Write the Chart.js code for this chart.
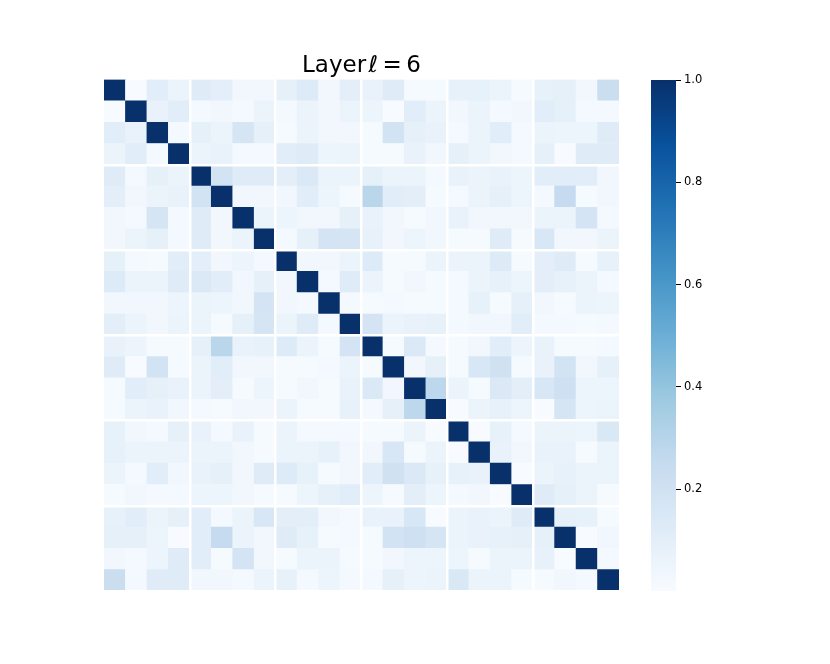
<!DOCTYPE html>
<html>
<head>
<meta charset="utf-8">
<title>Layer 6</title>
<script src="https://cdn.jsdelivr.net/npm/chart.js@4"></script>
<style>
  body { margin: 0; background: #fff; }
  #wrap { position: relative; width: 830px; height: 664px; }
  canvas { position: absolute; top: 0; }
  #heat { left: 0; }
  #bar { left: 640px; }
</style>
</head>
<body>
<div id="wrap">
  <canvas id="heat" width="830" height="664"></canvas>
  <canvas id="bar" width="190" height="664"></canvas>
</div>
<script>
// values, one list per row, top row first
const row0  = [1, .00, .11, .06, .12, .10, .03, .03, .09, .13, .03, .10, .07, .12, .01, .01, .08, .08, .06, .01, .08, .09, .03, .23];
const row1  = [.00, 1, .07, .11, .02, .03, .02, .06, .02, .06, .03, .06, .05, .00, .11, .06, .03, .06, .02, .03, .11, .09, .02, .02];
const row2  = [.11, .07, 1, .02, .09, .06, .17, .09, .01, .06, .03, .03, .01, .19, .09, .07, .02, .06, .11, .02, .06, .05, .05, .12];
const row3  = [.06, .11, .02, 1, .06, .07, .02, .02, .11, .12, .05, .06, .01, .01, .07, .03, .09, .06, .03, .02, .09, .00, .12, .12];
const row4  = [.12, .02, .09, .06, 1, .19, .12, .12, .10, .14, .06, .06, .09, .06, .06, .02, .07, .06, .07, .05, .11, .11, .11, .03];
const row5  = [.10, .03, .06, .07, .19, 1, .03, .03, .03, .11, .05, .01, .29, .11, .10, .01, .02, .06, .09, .05, .02, .25, .01, .03];
const row6  = [.03, .02, .17, .02, .12, .03, 1, .06, .05, .03, .03, .09, .07, .03, .01, .03, .07, .03, .03, .03, .06, .06, .18, .02];
const row7  = [.03, .06, .09, .02, .12, .03, .06, 1, .02, .09, .18, .17, .08, .03, .05, .03, .01, .01, .12, .01, .16, .03, .03, .06];
const row8  = [.09, .02, .01, .11, .10, .03, .05, .02, 1, .03, .03, .06, .13, .01, .01, .06, .06, .06, .13, .01, .10, .12, .01, .08];
const row9  = [.13, .06, .06, .12, .14, .11, .03, .09, .03, 1, .02, .12, .06, .01, .03, .01, .02, .06, .08, .05, .10, .08, .06, .02];
const row10 = [.03, .03, .03, .05, .06, .05, .03, .18, .03, .02, 1, .02, .01, .02, .01, .01, .02, .08, .01, .09, .03, .01, .06, .05];
const row11 = [.10, .06, .03, .06, .06, .01, .09, .17, .06, .12, .02, 1, .18, .06, .07, .08, .02, .03, .03, .11, .02, .02, .01, .02];
const row12 = [.07, .05, .01, .01, .09, .29, .07, .08, .13, .06, .01, .18, 1, .01, .14, .02, .01, .03, .11, .05, .07, .01, .01, .02];
const row13 = [.12, .00, .19, .01, .06, .11, .03, .03, .01, .01, .02, .06, .01, 1, .03, .09, .01, .16, .20, .01, .07, .19, .03, .09];
const row14 = [.01, .11, .09, .07, .06, .10, .01, .05, .01, .03, .01, .07, .14, .03, 1, .28, .06, .01, .14, .10, .16, .21, .05, .05];
const row15 = [.01, .06, .07, .03, .02, .01, .03, .03, .06, .01, .01, .08, .02, .09, .28, 1, .00, .06, .08, .05, .00, .17, .05, .06];
const row16 = [.08, .03, .02, .09, .07, .02, .07, .01, .06, .02, .02, .02, .01, .01, .06, .00, 1, .00, .08, .02, .06, .06, .05, .15];
const row17 = [.08, .06, .06, .06, .06, .06, .03, .01, .06, .06, .08, .03, .03, .16, .01, .06, .00, 1, .07, .03, .07, .07, .01, .06];
const row18 = [.06, .02, .11, .03, .07, .09, .03, .12, .13, .08, .01, .03, .11, .20, .14, .08, .08, .07, 1, .00, .06, .08, .06, .06];
const row19 = [.01, .03, .02, .02, .05, .05, .03, .01, .01, .05, .09, .11, .05, .01, .10, .05, .02, .03, .00, 1, .12, .09, .06, .01];
const row20 = [.08, .11, .06, .09, .11, .02, .06, .16, .10, .10, .03, .02, .07, .07, .16, .00, .06, .07, .06, .12, 1, .09, .08, .01];
const row21 = [.09, .09, .05, .00, .11, .25, .06, .03, .12, .08, .01, .02, .01, .19, .21, .17, .06, .07, .08, .09, .09, 1, .00, .03];
const row22 = [.03, .02, .05, .12, .11, .01, .18, .03, .01, .06, .06, .01, .01, .03, .05, .05, .05, .01, .06, .06, .08, .00, 1, .02];
const row23 = [.23, .02, .12, .12, .03, .03, .02, .06, .08, .02, .05, .02, .02, .09, .05, .06, .15, .06, .06, .01, .01, .03, .02, 1];
const rows = [row0, row1, row2, row3, row4, row5, row6, row7, row8, row9, row10, row11,
  row12, row13, row14, row15, row16, row17, row18, row19, row20, row21, row22, row23];

const categories = row0.map((v, i) => String(i));
const colorbarTicks = [0.2, 0.4, 0.6, 0.8, 1.0];
const vMin = 0.001;
const vMax = 1;

// matplotlib "Blues"
const blues = [[247, 251, 255], [222, 235, 247], [198, 219, 239], [158, 202, 225],
  [107, 174, 214], [66, 146, 198], [33, 113, 181], [8, 81, 156], [8, 48, 107]];
const fontFamily = "'DejaVu Sans', sans-serif";

function cellColor(v) {
  const t = Math.min(1, Math.max(0, (v - vMin) / (vMax - vMin))) * (blues.length - 1);
  const i = Math.min(blues.length - 2, Math.floor(t));
  const f = t - i;
  const c = blues[i].map((b, k) => Math.round(b + (blues[i + 1][k] - b) * f));
  return `rgb(${c[0]}, ${c[1]}, ${c[2]})`;
}

// one stacked dataset per row, bottom row goes first
const datasets = rows.slice().reverse().map((row) => ({
  data: row.map(() => 1),
  backgroundColor: row.map(cellColor),
  borderWidth: 0,
  barPercentage: 1,
  categoryPercentage: 1,
}));

new Chart(document.getElementById("heat"), {
  type: "bar",
  data: { labels: categories, datasets },
  options: {
    responsive: false,
    animation: false,
    layout: { padding: { left: 104, right: 211, top: 0, bottom: 73 } },
    plugins: {
      legend: { display: false },
      tooltip: { enabled: false },
      title: {
        display: true,
        text: "Layer\u200Aℓ\u2009=\u20096",
        color: "#000",
        fullSize: false,
        font: { family: fontFamily, size: 23, weight: "normal", lineHeight: 1.2 },
        padding: { top: 52, bottom: 0 },
      },
    },
    scales: {
      x: {
        stacked: true,
        border: { display: false },
        grid: {
          offset: true,
          z: 1,
          drawTicks: false,
          lineWidth: 2.5,
          color: (ctx) => (ctx.index % 4 === 0 && ctx.index % 24 !== 0 ? "#fff" : "rgba(0,0,0,0)"),
        },
        ticks: { display: false, autoSkip: false },
      },
      y: {
        stacked: true,
        min: 0,
        max: 24,
        border: { display: false },
        grid: {
          z: 1,
          drawTicks: false,
          lineWidth: 2.5,
          color: (ctx) => (ctx.tick && ctx.tick.value % 4 === 0 && ctx.tick.value % 24 !== 0 ? "#fff" : "rgba(0,0,0,0)"),
        },
        ticks: { display: false, stepSize: 1, autoSkip: false },
      },
    },
  },
});

// colour bar with its own value axis
new Chart(document.getElementById("bar"), {
  type: "bar",
  data: {
    labels: [""],
    datasets: [{
      data: [[vMin, vMax]],
      borderWidth: 0,
      barPercentage: 1,
      categoryPercentage: 1,
      backgroundColor: (ctx) => {
        const area = ctx.chart.chartArea;
        if (!area) return "#f7fbff";
        const g = ctx.chart.ctx.createLinearGradient(0, area.bottom, 0, area.top);
        blues.forEach((c, i) => g.addColorStop(i / (blues.length - 1), `rgb(${c[0]}, ${c[1]}, ${c[2]})`));
        return g;
      },
    }],
  },
  options: {
    responsive: false,
    animation: false,
    layout: { padding: { left: 11, right: 0, top: 80, bottom: 73 } },
    plugins: { legend: { display: false }, tooltip: { enabled: false } },
    scales: {
      x: { display: false },
      y: {
        position: "right",
        min: vMin,
        max: vMax,
        afterBuildTicks: (axis) => { axis.ticks = colorbarTicks.map((value) => ({ value })); },
        afterFit: (axis) => { axis.width = 154; },
        border: { display: false },
        grid: { drawOnChartArea: false, tickLength: 5, tickColor: "#000", tickWidth: 1 },
        ticks: {
          color: "#000",
          padding: 3,
          font: { family: fontFamily, size: 11.5 },
          callback: (v) => v.toFixed(1),
        },
      },
    },
  },
});
</script>
</body>
</html>
